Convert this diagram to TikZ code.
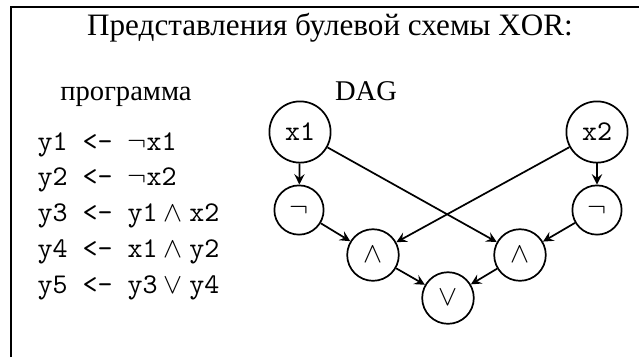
\documentclass[tikz,border=0pt]{standalone}
\usepackage{fontspec}
\setmainfont{Liberation Serif}
\usetikzlibrary{arrows}

\tikzset{gate/.style = {draw, circle, semithick}}

\begin{document}
\begin{tikzpicture}[x=0.35pt, y=-0.35pt, >=stealth]
    \useasboundingbox (0, 0) rectangle (639, 357);
    % frame
    \draw [thick] (11, 357) -- (11, 7) -- (639, 7);
    \node [anchor=base, font=\fontsize{10.9}{13}\selectfont] (title) at (330, 35) {Представления булевой схемы XOR:};
    \node [anchor=base] (prog) at (126, 100) {программа};
    \node [anchor=base] (dag) at (366, 100) {DAG};

    % program
    \foreach \n/\rhs in {1/{$\neg$x1}, 2/{$\neg$x2},
        3/{$\texttt{y1}\land\texttt{x2}$}, 4/{$\texttt{x1}\land\texttt{y2}$},
        5/{$\texttt{y3}\lor\texttt{y4}$}} {
      \node [anchor=base west, inner sep=0pt] (line\n) at (37, 150 + 35.8*\n - 35.8) {\texttt{y\n{} <- \rhs}};
    }

    % DAG
    \node [gate] (x1) at (300, 132) {\texttt{x1}};
    \node [gate] (x2) at (597, 132) {\texttt{x2}};
    \node [gate] (neg1) at (299, 210) {$\neg$};
    \node [gate] (neg2) at (597, 210) {$\neg$};
    \node [gate] (and1) at (373, 255) {$\land$};
    \node [gate] (and2) at (520, 255) {$\land$};
    \node [gate] (or) at (448, 298) {$\lor$};

    \draw [semithick, ->] (x1) -- (neg1);
    \draw [semithick, ->] (x2) -- (neg2);
    \draw [semithick, ->] (neg1) -- (and1);
    \draw [semithick, ->] (x2) -- (and1);
    \draw [semithick, ->] (x1) -- (and2);
    \draw [semithick, ->] (neg2) -- (and2);
    \draw [semithick, ->] (and1) -- (or);
    \draw [semithick, ->] (and2) -- (or);
\end{tikzpicture}
\end{document}
